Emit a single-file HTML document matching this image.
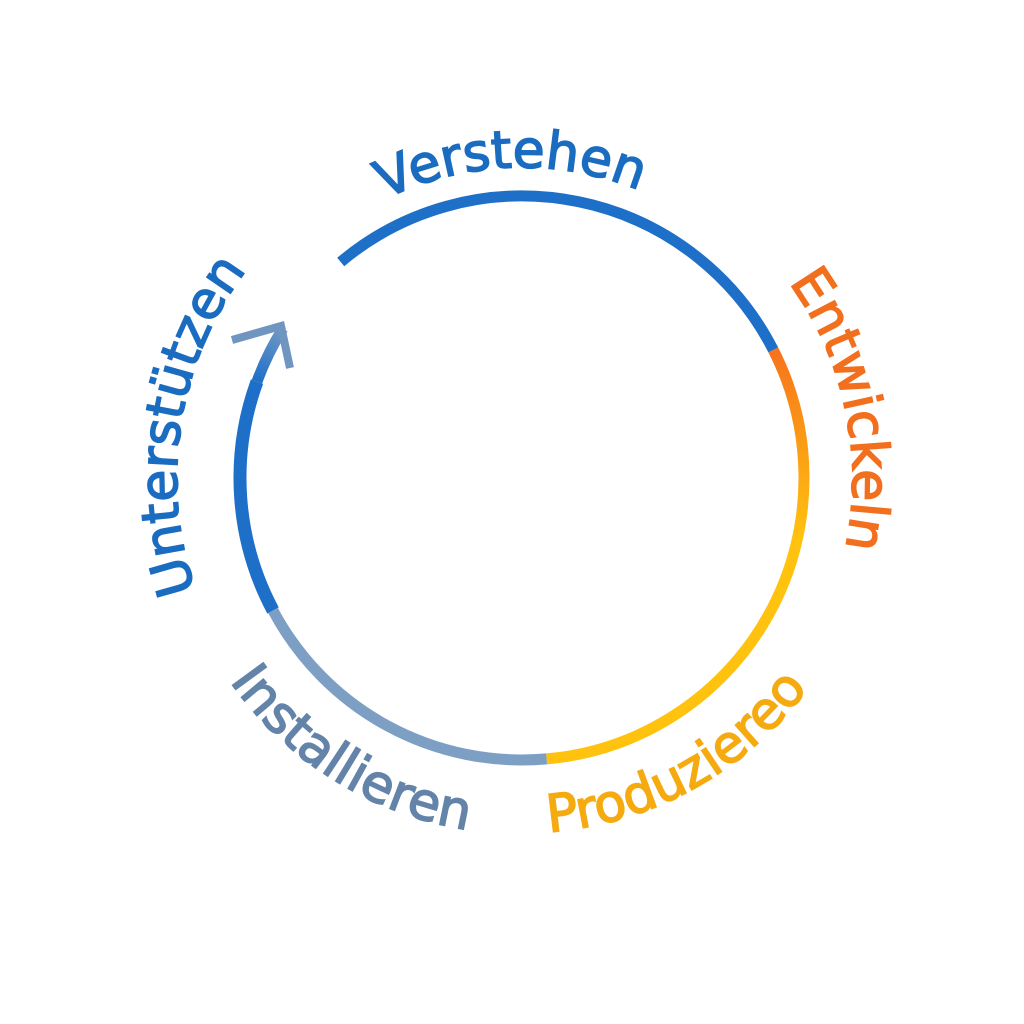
<!DOCTYPE html>
<html><head><meta charset="utf-8"><style>
html,body{margin:0;padding:0;background:#fff;width:1024px;height:1024px;overflow:hidden}
svg{display:block}
text{font-family:"DejaVu Sans","Liberation Sans",sans-serif;font-size:52px;stroke-width:1.6}
</style></head><body>
<svg width="1024" height="1024" viewBox="0 0 1024 1024">
<defs>
<linearGradient id="og" gradientUnits="userSpaceOnUse" x1="773" y1="350" x2="805" y2="540">
<stop offset="0" stop-color="#f7731c"/><stop offset="1" stop-color="#ffc30f"/></linearGradient>
<linearGradient id="bg" gradientUnits="userSpaceOnUse" x1="257" y1="382" x2="283" y2="329">
<stop offset="0" stop-color="#1e6fc8"/><stop offset="1" stop-color="#7199c4"/></linearGradient>
<path id="pV" d="M209.2,488.9 A313,313 0 0,1 834.8,467.1"/>
<path id="pE" d="M452.1,149.4 A336,336 0 0,1 591.9,806.6"/>
<path id="pU" d="M468,818.8 A345,345 0 0,1 576,137.2"/>
<path id="pP" d="M211.5,650.1 A355,355 0 0,0 832.5,305.9"/>
<path id="pI" d="M218.4,288.3 A358,358 0 0,0 825.6,667.7"/>
</defs>
<g fill="none" stroke-width="11">
<path d="M340.7,262 A282,282 0 0,1 773.3,350" stroke="#1e6fc8"/>
<path d="M773.3,350 A282,282 0 0,1 546.6,758.9" stroke="url(#og)"/>
<path d="M546.6,758.9 A282,282 0 0,1 273,610.4" stroke="#7d9fc4"/>
<path d="M273,610.4 A282,282 0 0,1 257,381.6" stroke="#1e6fc8" stroke-width="13"/>
<path d="M257,381.6 A282,282 0 0,1 282.9,328.6" stroke="url(#bg)"/>
<path d="M232,340 L281,326 L290,368" stroke="#6f95c0" stroke-width="8" stroke-linejoin="miter"/>
</g>
<text fill="#1a6cc0" stroke="#1a6cc0"><textPath href="#pV" startOffset="50%" text-anchor="middle">Verstehen</textPath></text>
<text fill="#f26f1d" stroke="#f26f1d"><textPath href="#pE" startOffset="50%" text-anchor="middle">Entwickeln</textPath></text>
<text fill="#1a6cc0" stroke="#1a6cc0"><textPath href="#pU" startOffset="50%" text-anchor="middle">Unterstützen</textPath></text>
<text fill="#f5ab10" stroke="#f5ab10"><textPath href="#pP" startOffset="50%" text-anchor="middle">Produziereo</textPath></text>
<text fill="#6384a8" stroke="#6384a8"><textPath href="#pI" startOffset="50%" text-anchor="middle">Installieren</textPath></text>
</svg>
</body></html>
